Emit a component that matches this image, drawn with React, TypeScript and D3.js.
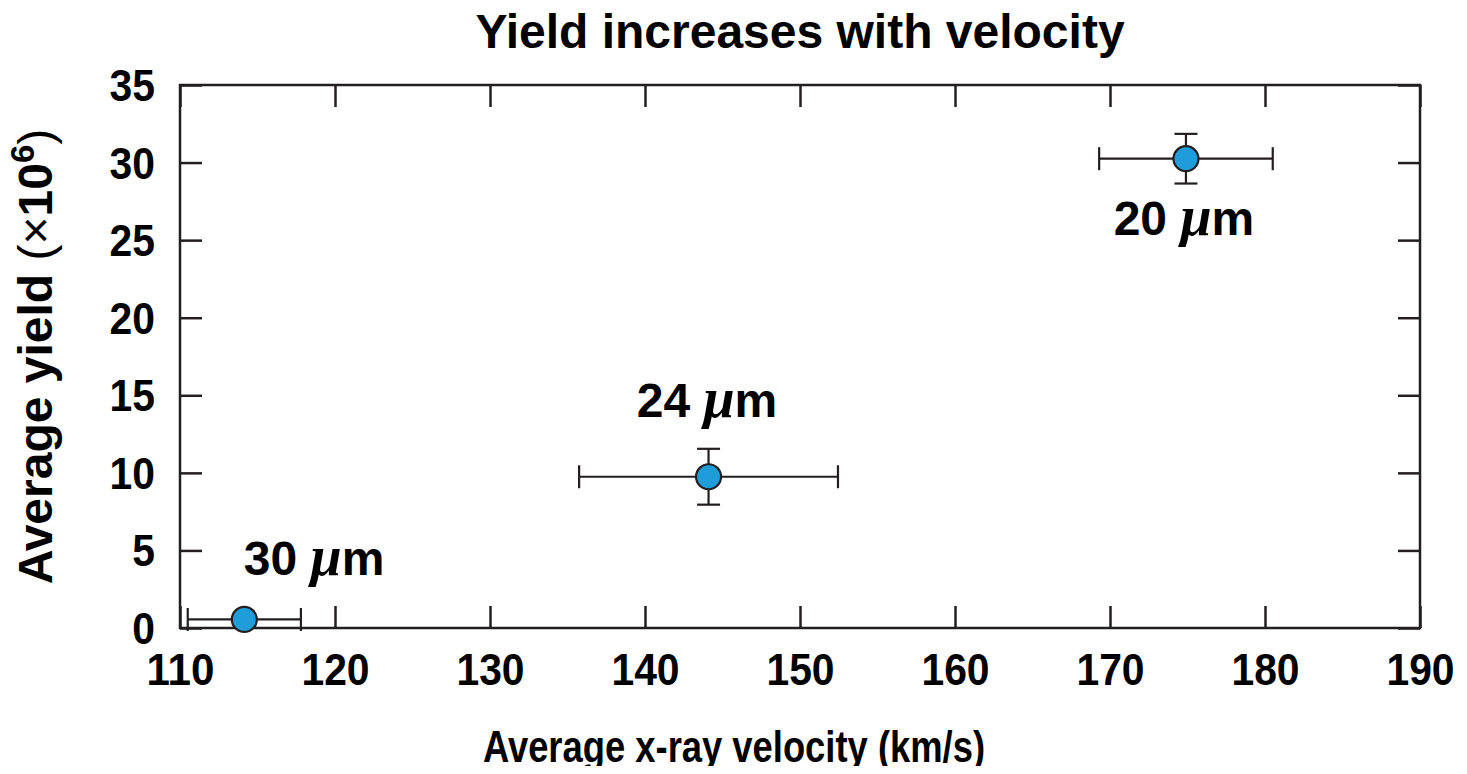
import * as d3 from 'd3';
import React, { useEffect, useRef } from 'react';

// wire diameter labels and measured points
const labels = ['30', '24', '20'];
const velocity = [114.15, 144.1, 174.9];
const velocityErr = [3.65, 8.35, 5.6];
const yieldVals = [0.55, 9.75, 30.25];
const yieldErr = [0, 1.8, 1.6];
// label anchors, in data units
const labelVel = [118.65, 144.0, 174.77];
const labelYield = [3.42, 13.6, 25.34];

const xTicks = [110, 120, 130, 140, 150, 160, 170, 180, 190];
const yTicks = [0, 5, 10, 15, 20, 25, 30, 35];

const App: React.FC = () => {
    const svgRef = useRef<SVGSVGElement | null>(null);

    useEffect(() => {
        const W = 1467;
        const H = 774;
        const margin = { top: 85, right: 47, bottom: 146, left: 180 };
        const width = W - margin.left - margin.right;
        const height = H - margin.top - margin.bottom;
        const ink = '#231f20';
        const font = "'Liberation Sans', Arial, Helvetica, sans-serif";
        const digitW = 22.7; // glyphs in the reference are a bit condensed

        d3.select(svgRef.current).selectAll('*').remove();

        const root = d3
            .select(svgRef.current)
            .attr('width', W)
            .attr('height', H)
            .style('font-family', font)
            .style('font-weight', 'bold');

        root.append('rect').attr('width', W).attr('height', H).attr('fill', '#fff');

        const svg = root.append('g').attr('transform', `translate(${margin.left},${margin.top})`);

        const x = d3.scaleLinear().domain([110, 190]).range([0, width]);
        const y = d3.scaleLinear().domain([0, 35]).range([height, 0]);

        const tickLen = 22;

        // Axes with inward ticks on all four sides
        const bottom = svg.append('g').attr('transform', `translate(0,${height})`)
            .call(d3.axisBottom(x).tickValues(xTicks).tickSizeInner(-tickLen).tickSizeOuter(0));
        const top = svg.append('g')
            .call(d3.axisTop(x).tickValues(xTicks).tickSizeInner(-tickLen).tickSizeOuter(0).tickFormat(() => ''));
        const left = svg.append('g')
            .call(d3.axisLeft(y).tickValues(yTicks).tickSizeInner(-tickLen).tickSizeOuter(0));
        const right = svg.append('g').attr('transform', `translate(${width},0)`)
            .call(d3.axisRight(y).tickValues(yTicks).tickSizeInner(-tickLen).tickSizeOuter(0).tickFormat(() => ''));

        [bottom, top, left, right].forEach(g => {
            g.select('.domain').remove();
            g.selectAll('line').attr('stroke', ink).attr('stroke-width', 2.5);
            g.selectAll('text')
                .attr('fill', '#000')
                .style('font-size', '45px')
                .style('font-family', font)
                .style('font-weight', 'bold')
                .attr('lengthAdjust', 'spacingAndGlyphs')
                .attr('textLength', function () {
                    return (this as SVGTextElement).textContent!.length * digitW;
                });
        });
        bottom.selectAll('text').attr('y', 57).attr('dy', 0);
        left.selectAll('text').attr('x', -25).attr('dy', 15.5);

        // frame
        svg.append('rect')
            .attr('width', width)
            .attr('height', height)
            .attr('fill', 'none')
            .attr('stroke', ink)
            .attr('stroke-width', 2.5);

        const idx = d3.range(velocity.length);
        const cap = 11.5;

        // error bars
        const eb = svg.append('g').attr('stroke', ink).attr('stroke-width', 2.2);
        idx.forEach(i => {
            const cy = y(yieldVals[i]);
            const x0 = x(velocity[i] - velocityErr[i]);
            const x1 = x(velocity[i] + velocityErr[i]);
            eb.append('line').attr('x1', x0).attr('x2', x1).attr('y1', cy).attr('y2', cy);
            eb.append('line').attr('x1', x0).attr('x2', x0).attr('y1', cy - cap).attr('y2', cy + cap);
            eb.append('line').attr('x1', x1).attr('x2', x1).attr('y1', cy - cap).attr('y2', cy + cap);
            if (yieldErr[i] > 0) {
                const cx = x(velocity[i]);
                const y0 = y(yieldVals[i] - yieldErr[i]);
                const y1 = y(yieldVals[i] + yieldErr[i]);
                eb.append('line').attr('x1', cx).attr('x2', cx).attr('y1', y0).attr('y2', y1);
                eb.append('line').attr('x1', cx - cap).attr('x2', cx + cap).attr('y1', y0).attr('y2', y0);
                eb.append('line').attr('x1', cx - cap).attr('x2', cx + cap).attr('y1', y1).attr('y2', y1);
            }
        });

        // points
        svg.selectAll('.pt')
            .data(idx)
            .enter()
            .append('circle')
            .attr('class', 'pt')
            .attr('cx', i => x(velocity[i]))
            .attr('cy', i => y(yieldVals[i]))
            .attr('r', 12.5)
            .attr('fill', '#1f9ddb')
            .attr('stroke', ink)
            .attr('stroke-width', 2.2);

        // point labels
        idx.forEach(i => {
            const t = svg.append('text')
                .attr('x', x(labelVel[i]))
                .attr('y', y(labelYield[i]))
                .attr('text-anchor', 'middle')
                .style('font-size', '48px')
                .attr('fill', '#000');
            t.append('tspan').text(`${labels[i]} `);
            t.append('tspan')
                .style('font-family', "'Liberation Serif', 'Times New Roman', serif")
                .style('font-style', 'italic')
                .style('font-size', '56px')
                .text('μ');
            t.append('tspan').text('m');
        });

        // title
        root.append('text')
            .attr('x', margin.left + width / 2)
            .attr('y', 48)
            .attr('text-anchor', 'middle')
            .style('font-size', '48px')
            .text('Yield increases with velocity');

        // x label
        root.append('text')
            .attr('x', 734)
            .attr('y', 762)
            .attr('text-anchor', 'middle')
            .style('font-size', '45px')
            .attr('lengthAdjust', 'spacingAndGlyphs')
            .attr('textLength', 502)
            .text('Average x-ray velocity (km/s)');

        // y label
        const yl = root.append('text')
            .attr('transform', `translate(52,${margin.top + height / 2}) rotate(-90)`)
            .attr('text-anchor', 'middle')
            .style('font-size', '48px');
        yl.append('tspan').text('Average yield ');
        yl.append('tspan').style('font-weight', 'normal').text('(×');
        yl.append('tspan').text('10');
        yl.append('tspan').attr('dy', -18).style('font-size', '33px').text('6');
        yl.append('tspan').attr('dy', 18).style('font-weight', 'normal').text(')');
    }, []);

    return <svg ref={svgRef} style={{ display: 'block', margin: '-8px' }}></svg>;
};

export default App;
